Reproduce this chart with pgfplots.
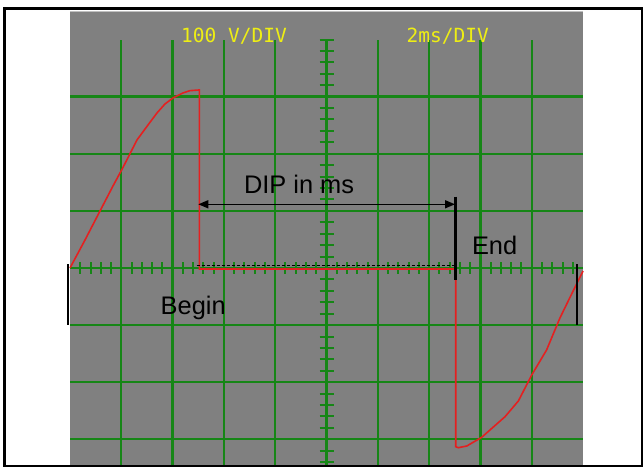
\documentclass[border=0pt]{standalone}
\usepackage{pgfplots}
\pgfplotsset{compat=1.18}
\usepackage{fontspec}
\setmainfont{Liberation Sans}
\newfontfamily\scopefont{DejaVu Sans Mono}
\usetikzlibrary{arrows.meta}
\definecolor{scopegray}{RGB}{128,128,128}
\definecolor{gridgreen}{RGB}{22,134,22}
\definecolor{scopered}{RGB}{228,32,32}
\definecolor{scopeyellow}{RGB}{238,238,20}
\begin{document}
\begin{tikzpicture}[x=1bp,y=1bp]
\begin{axis}[at={(70bp,0bp)}, anchor=south west, width=513bp, height=456bp, scale only axis,
  xmin=0, xmax=20, ymin=-348.5, ymax=450, axis x line=none, axis y line=none, ticks=none, clip=false]
\fill[scopegray] (rel axis cs:0,0) rectangle (rel axis cs:1,1);
\draw[black!25, line width=1.2bp] (rel axis cs:0,0.9985) -- (rel axis cs:1,0.9985);
\pgfplotsinvokeforeach{2,4,...,18}{\draw[gridgreen,line width=2.3bp] (axis cs:#1,-348.5) -- (axis cs:#1,400);}
\pgfplotsinvokeforeach{-300,-200,...,300}{\draw[gridgreen,line width=2.3bp] (axis cs:0,#1) -- (axis cs:20,#1);}
\pgfplotsinvokeforeach{0.4,0.8,...,19.7}{\draw[gridgreen,line width=2bp] (axis cs:#1,-10.5) -- (axis cs:#1,10.5);}
\pgfplotsinvokeforeach{-340,-320,...,400}{\draw[gridgreen,line width=2bp] (axis cs:9.727,#1) -- (axis cs:10.273,#1);}
\addplot[scopered, line width=1.6bp] coordinates {
(0,0) (0.585,49) (1.170,99.8) (1.676,143.6) (2.055,175.1) (2.612,224.2) (3.041,250.4)
(3.392,271.5) (3.704,287.2) (4.016,297.7) (4.405,306.5) (4.678,310.5) (5.041,311.7)
(5.041,-1.75) (15.04,-1.75) (15.04,-313.0) (15.14,-314.7) (15.47,-311.7) (16.05,-296.5)
(16.96,-260.4) (17.48,-232.9) (18.00,-187.4) (18.58,-143.6) (19.10,-87.6) (19.53,-48.0) (20.0,-5.3)};
\end{axis}
% scope captions
\node[anchor=base west, inner sep=0, outer sep=0, text=scopeyellow, font=\scopefont\fontsize{19.6}{20}\selectfont] at (181,424.3) {100 V/DIV};
\node[anchor=base west, inner sep=0, outer sep=0, text=scopeyellow, font=\scopefont\fontsize{19.6}{20}\selectfont] at (406.5,424.3) {2ms/DIV};
% annotations
\draw[black, line width=1bp, dash pattern=on 3bp off 2bp] (196.7,201.7) -- (455,201.7);
\draw[black, line width=1.5bp, {Triangle[length=10bp,width=8bp]}-{Triangle[length=10bp,width=8bp]}] (198.3,262.7) -- (455,262.7);
\draw[black, line width=2.5bp] (455.5,270.3) -- (455.5,187);
\draw[black, line width=2bp] (67.7,202.7) -- (67.7,142);
\draw[black, line width=2bp] (577,202.7) -- (577,142);
\node[anchor=base west, inner sep=0, outer sep=0, font=\fontsize{25.5}{26}\selectfont] at (244,273.7) {DIP in ms};
\node[anchor=base west, inner sep=0, outer sep=0, font=\fontsize{25.5}{26}\selectfont] at (472,212) {End};
\node[anchor=base west, inner sep=0, outer sep=0, font=\fontsize{25.5}{26}\selectfont] at (160.7,152) {Begin};
% frame
\draw[black, line width=3bp] (4.5,0) rectangle (642.5,458.2);
\pgfresetboundingbox
\path[use as bounding box] (0,0) rectangle (643,467);
\end{tikzpicture}
\end{document}
